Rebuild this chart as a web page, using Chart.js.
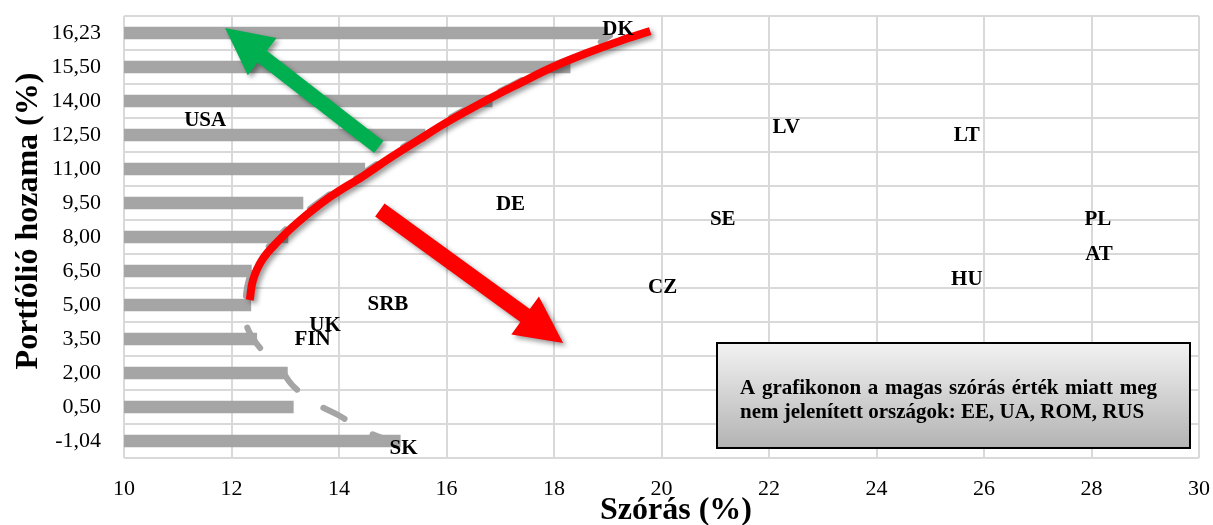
<!DOCTYPE html>
<html>
<head>
<meta charset="utf-8">
<script src="https://cdn.jsdelivr.net/npm/chart.js@4.4.1/dist/chart.umd.min.js"></script>
<style>
  html, body { margin: 0; padding: 0; background: #ffffff; }
  #wrap { width: 1213px; height: 525px; }
</style>
</head>
<body>
<div id="wrap"><canvas id="chart" width="1213" height="525"></canvas></div>
<script>
// Portfolio return levels (category rows, top to bottom)
const returnLevels = [16.23, 15.50, 14.00, 12.50, 11.00, 9.50, 8.00, 6.50, 5.00, 3.50, 2.00, 0.50, -1.04];
const returnLabels = ['16,23', '15,50', '14,00', '12,50', '11,00', '9,50', '8,00', '6,50', '5,00', '3,50', '2,00', '0,50', '-1,04'];

// Minimum standard deviation reached at each return level (gray bars)
const minStdDev = [19.00, 18.30, 16.85, 15.60, 14.48, 13.33, 13.05, 12.37, 12.36, 12.47, 13.04, 13.15, 15.14];

// Whole minimum-variance frontier (gray dashed), traced from SK up to DK
const frontierStd = [15.04, 14.45, 13.98, 13.55, 13.13, 12.90, 12.46, 12.25,
                     12.26, 12.32, 12.49, 12.79, 13.14, 13.75, 14.37, 14.87, 15.37, 15.93, 16.67, 17.29, 17.90, 18.53, 19.04];
const frontierRet = [-1.13, -0.54, 0.14, 0.68, 1.47, 2.22, 3.32, 4.34,
                     5.22, 6.10, 6.99, 7.82, 8.62, 9.76, 10.69, 11.49, 12.24, 13.07, 14.04, 14.79, 15.50, 15.80, 16.17];

// Efficient part of the frontier (red)
const efficientStd = [12.34, 12.40, 12.57, 12.87, 13.22, 13.83, 14.45, 14.95, 15.45, 16.01, 16.75, 17.37, 17.98, 18.61, 19.23, 19.79];
const efficientRet = [5.22, 6.10, 6.99, 7.82, 8.62, 9.76, 10.69, 11.49, 12.24, 13.07, 14.04, 14.79, 15.50, 15.80, 16.06, 16.27];

// Countries: standard deviation (%) and return (%)
const countries  = ['USA', 'DK', 'LV', 'LT', 'DE', 'SE', 'PL', 'AT', 'HU', 'CZ', 'SRB', 'UK', 'FIN', 'SK'];
const countryStd = [11.51, 19.19, 22.32, 25.68, 17.19, 21.14, 28.12, 28.14, 25.68, 20.02, 14.91, 13.74, 13.51, 15.20];
const countryRet = [13.14, 16.30, 12.83, 12.48, 9.44, 8.75, 8.75, 7.21, 6.11, 5.77, 5.02, 4.10, 3.49, -1.39];

// Direction arrows: [std, return] of tail and tip
const greenArrow = { tail: [14.74, 11.97], tip: [11.88, 16.34] };
const redArrow   = { tail: [14.76, 9.19],  tip: [18.17, 3.32] };

const noteLines = ['A grafikonon a magas szórás érték miatt meg', 'nem jelenített országok: EE, UA, ROM, RUS'];

const SERIF = '"Liberation Serif", "Times New Roman", Times, serif';

// The return rows are not evenly spaced, so a return value is placed on the
// row axis by linear interpolation between neighbouring rows.
function rowOf(ret) {
  const n = returnLevels.length;
  for (let i = 0; i < n - 1; i++) {
    const a = returnLevels[i], b = returnLevels[i + 1];
    if ((ret <= a && ret >= b) || (i === 0 && ret > a) || (i === n - 2 && ret < b)) {
      return i + (a - ret) / (a - b);
    }
  }
  return 0;
}
const toPoints = (xs, ys) => xs.map((x, i) => ({ x: x, y: rowOf(ys[i]) }));

function drawArrow(ctx, x0, y0, x1, y1, shaft, headW, headL) {
  const len = Math.hypot(x1 - x0, y1 - y0);
  const ux = (x1 - x0) / len, uy = (y1 - y0) / len;
  const px = -uy, py = ux;
  const bx = x1 - ux * headL, by = y1 - uy * headL;
  ctx.beginPath();
  ctx.moveTo(x0 + px * shaft / 2, y0 + py * shaft / 2);
  ctx.lineTo(bx + px * shaft / 2, by + py * shaft / 2);
  ctx.lineTo(bx + px * headW / 2, by + py * headW / 2);
  ctx.lineTo(x1, y1);
  ctx.lineTo(bx - px * headW / 2, by - py * headW / 2);
  ctx.lineTo(bx - px * shaft / 2, by - py * shaft / 2);
  ctx.lineTo(x0 - px * shaft / 2, y0 - py * shaft / 2);
  ctx.closePath();
  ctx.fill();
}

const decorations = {
  id: 'decorations',
  beforeDatasetDraw(chart, args) {
    if (args.index === 2) {
      const ctx = chart.ctx;
      ctx.save();
      ctx.shadowColor = 'rgba(0,0,0,0.40)';
      ctx.shadowBlur = 5;
      ctx.shadowOffsetX = 3;
      ctx.shadowOffsetY = 3;
    }
  },
  afterDatasetDraw(chart, args) {
    if (args.index === 2) chart.ctx.restore();
  },
  afterDatasetsDraw(chart) {
    const ctx = chart.ctx;
    const sx = chart.scales.x, sy = chart.scales.yPos;
    const px = v => sx.getPixelForValue(v);
    const py = r => sy.getPixelForValue(rowOf(r));

    // arrows
    ctx.save();
    ctx.shadowColor = 'rgba(0,0,0,0.40)';
    ctx.shadowBlur = 5;
    ctx.shadowOffsetX = 3;
    ctx.shadowOffsetY = 3;
    ctx.fillStyle = '#00b050';
    drawArrow(ctx, px(greenArrow.tail[0]), py(greenArrow.tail[1]), px(greenArrow.tip[0]), py(greenArrow.tip[1]), 15, 47, 47);
    ctx.fillStyle = '#ff0000';
    drawArrow(ctx, px(redArrow.tail[0]), py(redArrow.tail[1]), px(redArrow.tip[0]), py(redArrow.tip[1]), 16, 47, 47);
    ctx.restore();

    // country labels
    const meta = chart.getDatasetMeta(3);
    ctx.save();
    ctx.fillStyle = '#000000';
    ctx.font = 'bold 21px ' + SERIF;
    ctx.textAlign = 'center';
    ctx.textBaseline = 'middle';
    meta.data.forEach((pt, i) => ctx.fillText(countries[i], pt.x, pt.y));
    ctx.restore();
  },
  afterDraw(chart) {
    const ctx = chart.ctx;
    const area = chart.chartArea;

    // note box
    const bx = area.right - 482, by = area.bottom - 115, bw = 473, bh = 105;
    ctx.save();
    const g = ctx.createLinearGradient(0, by, 0, by + bh);
    g.addColorStop(0, '#f2f2f2');
    g.addColorStop(1, '#b3b3b3');
    ctx.fillStyle = g;
    ctx.fillRect(bx, by, bw, bh);
    ctx.strokeStyle = '#000000';
    ctx.lineWidth = 2;
    ctx.strokeRect(bx, by, bw, bh);

    ctx.fillStyle = '#000000';
    ctx.font = 'bold 21px ' + SERIF;
    ctx.textBaseline = 'alphabetic';
    ctx.textAlign = 'left';
    const tx = bx + 23, tw = 417;
    // first line justified to the full text width
    const words = noteLines[0].split(' ');
    const natural = words.reduce((s, w) => s + ctx.measureText(w).width, 0);
    const gap = (tw - natural) / (words.length - 1);
    let cx = tx;
    words.forEach(w => { ctx.fillText(w, cx, by + 51); cx += ctx.measureText(w).width + gap; });
    ctx.fillText(noteLines[1], tx, by + 75);
    ctx.restore();

    // axis titles
    ctx.save();
    ctx.fillStyle = '#000000';
    ctx.font = 'bold 32px ' + SERIF;
    ctx.textAlign = 'center';
    ctx.textBaseline = 'alphabetic';
    ctx.fillText('Szórás (%)', 676, 519);
    ctx.translate(37, 221);
    ctx.rotate(-Math.PI / 2);
    ctx.fillText('Portfólió hozama (%)', 0, 0);
    ctx.restore();
  }
};

function zeroPadding(scale) {
  scale.paddingTop = 0;
  scale.paddingBottom = 0;
  scale.paddingLeft = 0;
  scale.paddingRight = 0;
}

new Chart(document.getElementById('chart'), {
  type: 'bar',
  data: {
    labels: returnLabels,
    datasets: [
      {
        type: 'bar',
        data: minStdDev,
        backgroundColor: '#a5a5a5',
        grouped: false,
        barThickness: 12,
        maxBarThickness: 12,
        categoryPercentage: 1,
        barPercentage: 12 / 34,
        xAxisID: 'x',
        yAxisID: 'y',
        order: 5
      },
      {
        type: 'line',
        indexAxis: 'x',
        data: toPoints(frontierStd, frontierRet),
        borderColor: '#a5a5a5',
        borderWidth: 6,
        borderDash: [24, 32],
        borderCapStyle: 'round',
        tension: 0.4,
        pointRadius: 0,
        fill: false,
        xAxisID: 'x',
        yAxisID: 'yPos',
        order: 4
      },
      {
        type: 'line',
        indexAxis: 'x',
        data: toPoints(efficientStd, efficientRet),
        borderColor: '#ff0000',
        borderWidth: 8,
        borderCapStyle: 'butt',
        tension: 0.4,
        pointRadius: 0,
        fill: false,
        xAxisID: 'x',
        yAxisID: 'yPos',
        order: 3
      },
      {
        type: 'scatter',
        indexAxis: 'x',
        data: toPoints(countryStd, countryRet),
        pointRadius: 0,
        showLine: false,
        xAxisID: 'x',
        yAxisID: 'yPos',
        order: 1
      }
    ]
  },
  options: {
    indexAxis: 'y',
    responsive: false,
    animation: false,
    events: [],
    layout: { padding: { left: 0, right: 14, top: 16, bottom: 0 } },
    plugins: { legend: { display: false }, tooltip: { enabled: false } },
    scales: {
      x: {
        type: 'linear',
        position: 'bottom',
        min: 10,
        max: 30,
        ticks: { stepSize: 2, color: '#000000', font: { family: SERIF, size: 22 }, padding: 18 },
        grid: { color: '#d9d9d9', lineWidth: 2, drawTicks: false },
        border: { display: false },
        afterFit(scale) { scale.height = 67; zeroPadding(scale); }
      },
      y: {
        type: 'category',
        position: 'left',
        ticks: { color: '#000000', font: { family: SERIF, size: 22 }, padding: 23 },
        grid: { color: '#d9d9d9', lineWidth: 2, offset: true, drawTicks: false },
        border: { display: false },
        afterFit(scale) { scale.width = 124; zeroPadding(scale); }
      },
      yPos: {
        type: 'linear',
        display: false,
        offset: false,
        min: -0.5,
        max: 12.5,
        reverse: true,
        afterFit(scale) { zeroPadding(scale); }
      }
    }
  },
  plugins: [decorations]
});
</script>
</body>
</html>
